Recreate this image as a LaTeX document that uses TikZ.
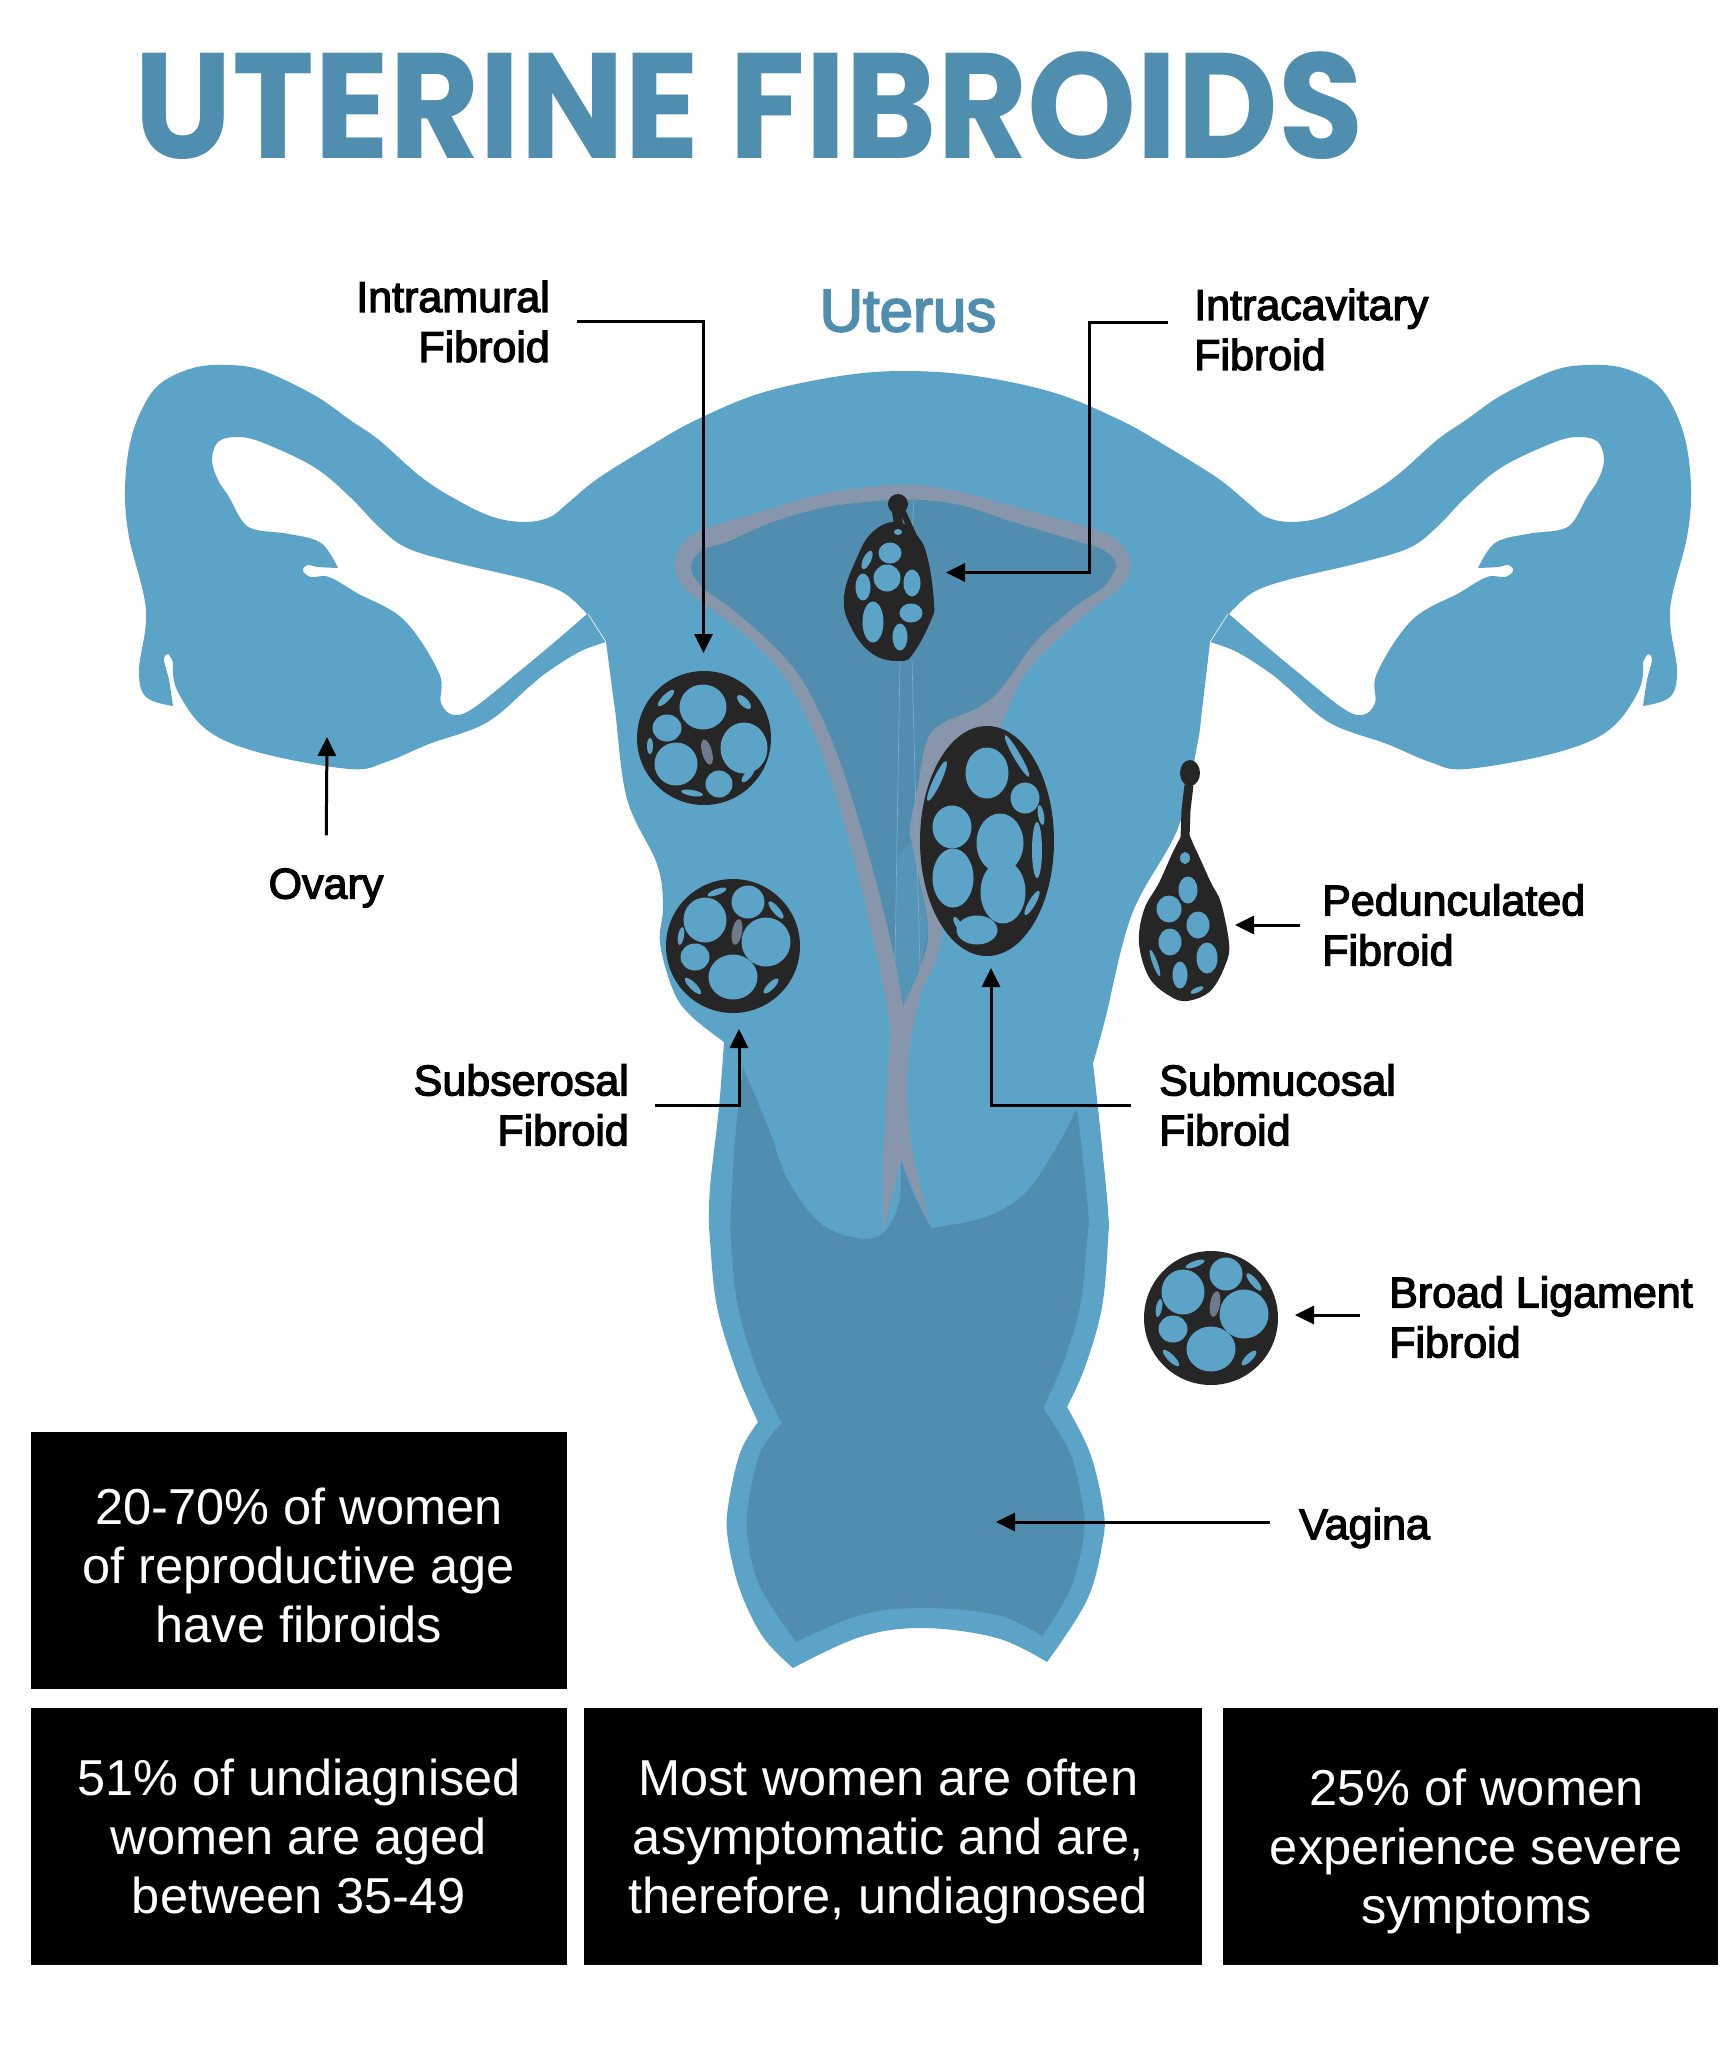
\documentclass[tikz,border=0pt]{standalone}
\usepackage{fontspec}
\setmainfont{Liberation Sans}
\newfontfamily\titlefont[FakeStretch=0.925]{Poppins}
\newfontfamily\labelfont[FakeBold=3]{Liberation Sans}
\usetikzlibrary{arrows.meta, positioning}
\definecolor{mbody}{HTML}{5CA3C8}
\definecolor{mdark}{HTML}{508DAF}
\definecolor{mmid}{HTML}{5595B8}
\definecolor{mgray}{HTML}{8896AB}
\definecolor{mtitle}{HTML}{4F8EAF}
\definecolor{mfib}{HTML}{262626}
\definecolor{mfaint}{HTML}{7FA9C4}
\tikzstyle{label} = [inner sep=0pt, align=left, font=\labelfont\fontsize{43}{50}\selectfont]
\tikzstyle{statbox} = [rectangle, fill=black, inner sep=0pt, minimum height=257pt]
\tikzstyle{stattext} = [inner sep=0pt, align=center, text=white, font=\fontsize{50.5}{59}\selectfont]
\tikzstyle{cable} = [line width=3pt, -{Triangle[length=19pt,width=18pt]}]
\tikzstyle{fibbase} = [fill=mfib, draw=mfib, line width=2pt]
\newcommand{\cellset}[1]{%
  \foreach \cx/\cy/\crx/\cry in {#1} {\fill [mbody] (\cx,\cy) ellipse [x radius=\crx+2.5, y radius=\cry+2.5];}}
\newcommand{\sliverset}[1]{%
  \foreach \cx/\cy/\crx/\cry/\crot in {#1} {\fill [mbody, rotate around={\crot:(\cx,\cy)}] (\cx,\cy) ellipse [x radius=\crx, y radius=\cry];}}
\newcommand{\roundfibroid}[4]{%
  \begin{scope}[shift={(#1,#2)}]
    \path [fibbase] (0,0) circle [radius=66];
    \cellset{#3}
    \sliverset{#4}
  \end{scope}}
\newcommand{\ovarytube}{%
  \fill [mbody, even odd rule]
    plot [smooth, tension=0.6] coordinates {(660,440) (600,477) (568,503) (550,517) (525,522) (493,517) (457,500) (421,477) (379,440) (350,420) (314,395) (261,370) (225,365) (193,368) (161,383) (143,407) (130,443) (125,490) (129,537) (146,610) (139,670) (146,697) (173,706)}
    -- plot [smooth, tension=0.6] coordinates {(173,706) (169,680) (164,660) (168,654) (173,662)}
    -- plot [smooth, tension=0.6] coordinates {(173,662) (177,690) (207,730) (261,753) (350,769) (386,762) (429,744) (486,723) (529,687) (546,673) (579,652) (606,642)}
    -- (700,550) -- (700,440) -- cycle
    plot [smooth, tension=0.6] coordinates {(587,614) (564,593) (529,580) (457,563) (407,548) (379,527) (350,497) (314,467) (261,442) (236,437) (218,442) (212,460) (218,480) (229,497) (243,522) (257,530) (289,534) (321,543) (338,568)}
    -- plot [smooth, tension=0.6] coordinates {(338,568) (318,567) (307,565) (303,571) (311,577) (329,577) (357,593) (404,620) (439,673) (441,703) (454,715) (475,707) (521,670) (557,640) (587,614)}
    -- cycle;
  \draw [white, line width=0.6pt] (588,614) -- (606,642);}
\begin{document}
\begin{tikzpicture}[x=1pt, y=-1pt]
  \useasboundingbox (0,0) rectangle (1735,2058);
  % tubes and ovaries
  \ovarytube
  \begin{scope}[xscale=-1, xshift=-1816pt]
    \ovarytube
  \end{scope}
  % uterus and vagina outline
  \fill [mbody]
    plot [smooth, tension=0.6] coordinates {(660,440) (696,420) (761,393) (840,376) (905,371) (976,376) (1055,393) (1120,420) (1156,440)}
    -- plot [smooth, tension=0.6] coordinates {(1210,642) (1202,710) (1197,746) (1178,828) (1132,914) (1105,1020) (1093,1063)}
    -- plot [smooth, tension=0.6] coordinates {(1093,1063) (1100,1127) (1108,1210) (1108,1240) (1102,1307) (1085,1367) (1067,1407)}
    -- plot [smooth, tension=0.6] coordinates {(1067,1407) (1090,1453) (1103,1507) (1103,1540) (1087,1600) (1047,1662)}
    -- plot [smooth, tension=0.6] coordinates {(1047,1662) (997,1638) (923,1628) (860,1637) (793,1668)}
    -- plot [smooth, tension=0.6] coordinates {(793,1668) (763,1637) (740,1590) (728,1540) (728,1507) (740,1453) (758,1422)}
    -- plot [smooth, tension=0.6] coordinates {(758,1422) (737,1373) (717,1307) (710,1240) (709,1210) (711,1177) (719,1107) (724,1042)}
    -- plot [smooth, tension=0.6] coordinates {(724,1042) (690,1015) (673,990) (660,943) (663,906) (657,864) (627,799) (615,710) (606,642)}
    -- cycle;
  % vagina inner
  \fill [mdark]
    plot [smooth, tension=0.6] coordinates {(743,1067) (768,1127) (788,1180) (820,1223) (857,1238) (883,1233) (899,1203) (901,1160)}
    -- plot [smooth, tension=0.6] coordinates {(901,1160) (912,1190) (931,1228)}
    -- plot [smooth, tension=0.6] coordinates {(931,1228) (986,1217) (1025,1193) (1055,1150) (1077,1108)}
    -- plot [smooth, tension=0.6] coordinates {(1077,1108) (1088,1210) (1087,1240) (1080,1307) (1063,1363) (1043,1408)}
    -- plot [smooth, tension=0.6] coordinates {(1043,1408) (1070,1453) (1083,1507) (1083,1540) (1070,1590) (1042,1636)}
    -- plot [smooth, tension=0.6] coordinates {(1042,1636) (997,1615) (923,1608) (860,1615) (796,1642)}
    -- plot [smooth, tension=0.6] coordinates {(796,1642) (760,1587) (748,1540) (748,1507) (760,1453) (782,1423)}
    -- plot [smooth, tension=0.6] coordinates {(782,1423) (758,1373) (738,1307) (731,1240) (731,1210) (735,1140) (743,1067)}
    -- cycle;
  % cavity wall
  \fill [mgray]
    plot [smooth, tension=0.6] coordinates {(890,485) (920,485) (960,492) (1020,508) (1090,528) (1117,540) (1131,563) (1120,587) (1087,613) (1050,647) (1023,677) (1002,723) (975,790) (950,870) (943,927) (937,957) (920,997) (908,1063) (911,1143) (931,1227)}
    -- plot [smooth, tension=0.6] coordinates {(931,1227) (916,1195) (901,1160)}
    -- (883,1232)
    -- plot [smooth, tension=0.6] coordinates {(883,1160) (888,1070) (890,1027) (880,970) (857,870) (828,770) (800,703) (777,667) (743,633) (703,603) (683,587) (675,565) (683,543) (703,530) (760,512) (827,493) (890,485)}
    -- cycle;
  % cavity
  \fill [mdark]
    plot [smooth, tension=0.6] coordinates {(903,1005) (895,960) (873,870) (843,770) (817,707) (793,667) (760,633) (727,605) (702,587) (691,567) (702,550) (727,542) (773,522) (827,507) (890,500) (920,500) (960,505) (1013,522) (1073,540) (1103,550) (1116,565) (1103,587) (1077,605) (1037,640) (1010,677) (993,697) (973,710) (943,723) (927,740) (917,790) (910,827) (912,847) (928,927) (920,967) (903,1005)}
    -- cycle;
  \fill [mmid] (897,860) -- (911,840) -- (928,927) -- (920,967) -- (903,1005) -- (895,960) -- cycle;
  \draw [mfaint, line width=0.7pt] (900,660) -- (895,960);
  \draw [mfaint, line width=0.7pt] (912,660) -- (920,967);
  \draw [mfaint, line width=0.7pt] (914,500) -- (912,535);
  % fibroids
  \roundfibroid{704}{738}{-1/-31/21/20, 40/10/21/23, -28/26/19/19, -37/-10/12/11, 15/46/11/11}{-38/-40/11/3.5/45, 40/-36/9/4/-45, -54/8/3/8/0, -12/55/11/3/-10, 44/37/9/3.5/50}
  \fill [mgray!75!mfib, rotate around={15:(707,752)}] (707,752) ellipse [x radius=5, y radius=13];
  \roundfibroid{733}{946}{-28/-26/19/20, 15/-44/14/14, 33/-4/22/22, 0/31/22/20, -38/11/12/11}{43/-36/11/3.5/-50, -52/-10/3/9/-10, -40/40/11/3.5/-45, 38/40/10/3.5/45, -16/-54/10/3/20}
  \fill [mgray!75!mfib, rotate around={-10:(737,932)}] (737,932) ellipse [x radius=5, y radius=13];
  \roundfibroid{1211}{1318}{-28/-26/19/20, 15/-44/14/14, 33/-4/22/22, 0/31/22/20, -38/11/12/11}{43/-36/11/3.5/-50, -52/-10/3/9/-10, -40/40/11/3.5/-45, 38/40/10/3.5/45, -16/-54/10/3/20}
  \fill [mgray!75!mfib, rotate around={-10:(1215,1304)}] (1215,1304) ellipse [x radius=5, y radius=13];
  % submucosal
  \begin{scope}[shift={(987,841)}]
    \path [fibbase] (0,0) ellipse [x radius=66, y radius=114];
    \cellset{0/-68/19/23, 38/-43/12/13, -35/-14/17/19, 13/2/21/27, -34/37/18/27, 16/51/20/29, -10/89/18/12}
    \sliverset{50/9/5/28/0, -50/-60/4/22/-25, 30/-85/3.5/24/30, 54/-26/3/10/10, 45/62/3.5/14/-30, -29/83/3/8/30}
  \end{scope}
  % intracavitary
  \fill [mfib] (898,504) circle [radius=10];
  \draw [mfib, line width=9pt] (896,508) -- (899,528);
  \draw [mfib, line width=6pt] (902,510) -- (914,536);
  \begin{scope}[shift={(889,590)}]
    \path [fibbase] plot [smooth cycle, tension=0.7] coordinates {(8,-67) (28,-53) (38,-30) (44,13) (41,30) (24,62) (11,70) (-16,63) (-37,37) (-44,7) (-32,-30) (-16,-57)};
    \cellset{-2/-12/11/11, 1/-37/9/8, 23/-7/6/11, -26/-3/5/11, -16/32/8/18, 22/23/9/7, 11/47/5/11}
    \sliverset{-22/-30/4/10/-25, 9/-58/4/3/0}
  \end{scope}
  % pedunculated
  \draw [mfib, line width=11pt] (1190,771) -- (1191,782);
  \fill [mfib] (1190,773) ellipse [x radius=10, y radius=13];
  \draw [mfib, line width=9pt] (1189,785) -- (1186,810) -- (1185,838);
  \begin{scope}[shift={(1184,920)}]
    \path [fibbase] plot [smooth cycle, tension=0.6] coordinates {(2,-86) (10,-72) (26,-37) (36,-17) (44,23) (41,43) (26,70) (3,80) (-14,75) (-34,57) (-44,23) (-39,-10) (-24,-37) (-8,-72)};
    \cellset{-15/-11/10/11, 4/-30/7/11, 14/5/9/11, -14/22/9/11, 23/38/8/13, -4/55/5/11}
    \sliverset{1/-62/5/6/0, -29/43/2.5/14/20, 13/70/7/2.5/25}
  \end{scope}
  % texts
  \node (title) [anchor=base west, inner sep=0pt, text=mtitle, font=\titlefont\bfseries\fontsize{150}{150}\selectfont] at (134,158) {UTERINE FIBROIDS};
  \node (uterus) [inner sep=0pt, text=mtitle, font=\labelfont\fontsize{60}{70}\selectfont] at (908,311) {Uterus};
  \node (intramural) [label, align=right, anchor=east] at (550,321.5) {Intramural\\Fibroid};
  \node (intracavitary) [label, anchor=west] at (1194,329.5) {Intracavitary\\Fibroid};
  \node (ovary) [label] at (326,888) {Ovary};
  \node (pedunculated) [label, anchor=west] at (1322,925) {Pedunculated\\Fibroid};
  \node (subserosal) [label, align=right, anchor=east] at (629,1105) {Subserosal\\Fibroid};
  \node (submucosal) [label, anchor=west] at (1159,1105) {Submucosal\\Fibroid};
  \node (broad) [label, anchor=west] at (1389,1317) {Broad Ligament\\Fibroid};
  \node (vagina) [label, anchor=west] at (1299,1528) {Vagina};
  % arrows
  \coordinate (intramuraltip) at (703.5,653);
  \coordinate (intracavbend) at (1089,572.5);
  \coordinate (intracavtip) at (946,572.5);
  \coordinate (ovarytip) at (327,737);
  \coordinate (pedtip) at (1235,925);
  \coordinate (subserosaltip) at (739,1029);
  \coordinate (submucosaltip) at (991,968);
  \coordinate (broadtip) at (1295,1315);
  \coordinate (vaginatip) at (996,1522);
  \draw [cable, shorten <=27pt] (intramural.east) -| (intramuraltip);
  \draw [cable, shorten <=26pt] ([yshift=7.5pt]intracavitary.west) -| (intracavbend) -- (intracavtip);
  \draw [cable, shorten <=33pt] (ovary.north) -- (ovarytip);
  \draw [cable, shorten <=22pt] (pedunculated.west) -- (pedtip);
  \draw [cable, shorten <=26pt] (subserosal.east) -| (subserosaltip);
  \draw [cable, shorten <=28pt] (submucosal.west) -| (submucosaltip);
  \draw [cable, shorten <=29pt] ([yshift=2pt]broad.west) -- (broadtip);
  \draw [cable, shorten <=29pt] ([yshift=6pt]vagina.west) -- (vaginatip);
  % statistics
  \node (boxone) [statbox, minimum width=536pt] at (299,1560) {};
  \node (boxtwo) [statbox, minimum width=536pt, below=19pt of boxone] {};
  \node (boxthree) [statbox, minimum width=618pt, right=17pt of boxtwo] {};
  \node (boxfour) [statbox, minimum width=495pt, right=20pt of boxthree] {};
  \node (textone) [stattext, yshift=-5.5pt] at (boxone) {20-70\% of women\\of reproductive age\\have fibroids};
  \node (texttwo) [stattext] at (boxtwo) {51\% of undiagnised\\women are aged\\between 35-49};
  \node (textthree) [stattext, xshift=-5pt, yshift=-5.5pt] at (boxthree) {Most women are often\\asymptomatic and are,\\therefore, undiagnosed};
  \node (textfour) [stattext, xshift=6pt, yshift=-15pt] at (boxfour) {25\% of women\\experience severe\\symptoms};
\end{tikzpicture}
\end{document}
